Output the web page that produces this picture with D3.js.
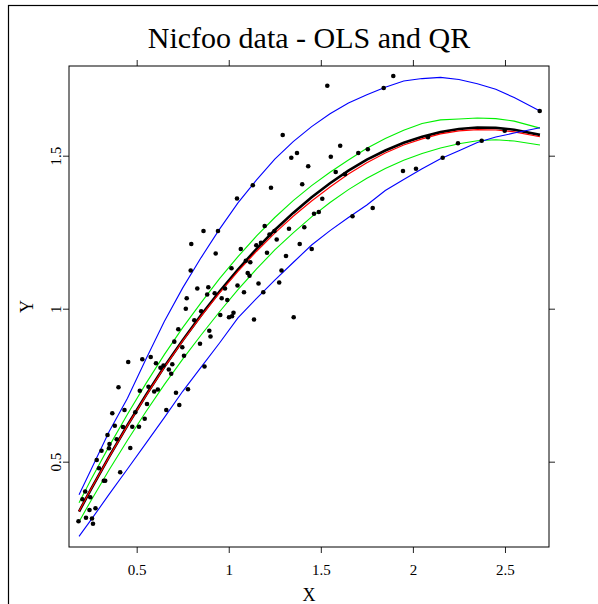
<!DOCTYPE html>
<html><head><meta charset="utf-8">
<script src="https://cdn.jsdelivr.net/npm/d3@7"></script>
<style>body{margin:0;background:#fff}svg{display:block}text{font-family:"Liberation Serif","Times New Roman",serif}</style>
</head><body>
<script>
// ---- data ----
const ptsX = [0.1841,0.2248,0.2438,0.2574,0.2628,0.2764,0.2058,0.2205,0.2482,0.2829,0.2954,0.3090,0.3215,0.3291,0.3416,0.3524,0.3497,0.3676,0.3812,0.3915,0.4013,0.4105,0.4257,0.4339,0.4540,0.4762,0.4654,0.4925,0.5126,0.5170,0.5306,0.5436,0.5561,0.5642,0.5762,0.5952,0.6049,0.6147,0.6294,0.6457,0.6609,0.6745,0.6875,0.6935,0.7043,0.7135,0.7315,0.7260,0.7478,0.7570,0.7787,0.7717,0.7668,0.7934,0.7966,0.8129,0.8292,0.8439,0.8504,0.8629,0.8683,0.8830,0.8890,0.8944,0.9009,0.9237,0.9291,0.9416,0.9541,0.9617,0.9796,0.9921,1.0014,1.0149,1.0177,1.0258,1.0475,1.0448,1.0654,1.0828,1.0926,1.1170,1.1029,1.1127,1.1306,1.1371,1.1496,1.1616,1.1751,1.1876,1.1952,1.2077,1.2213,1.2294,1.2484,1.2604,1.2740,1.2865,1.2930,1.3109,1.3272,1.3397,1.3527,1.3706,1.3853,1.3989,1.4103,1.4315,1.4505,1.4630,1.4890,1.5080,1.5352,1.5542,1.5808,1.6052,1.6313,1.6720,1.7035,1.7551,1.7817,1.8414,1.8936,1.9462,2.0168,2.0820,2.1618,2.2449,2.3736,2.4985,2.6886];
const ptsY = [0.3055,0.3167,0.3421,0.3144,0.2974,0.3477,0.3771,0.4026,0.3840,0.5055,0.4784,0.5359,0.4379,0.4379,0.5873,0.5578,0.5438,0.6582,0.6173,0.5732,0.7435,0.4654,0.6134,0.6689,0.8258,0.6144,0.5448,0.6614,0.6144,0.7320,0.8346,0.6405,0.6886,0.7451,0.8422,0.7294,0.8216,0.7359,0.8072,0.8144,0.6689,0.8013,0.7876,0.8186,0.8922,0.7255,0.6853,0.9330,0.8739,0.8464,0.7366,1.0340,1.0000,1.1248,1.2114,0.9621,1.0660,0.8856,0.9915,1.2539,0.8111,1.0464,1.0699,0.9281,0.9091,1.0503,1.1804,1.2539,0.9794,1.0343,1.0660,1.0284,0.9722,1.1320,0.9755,0.9869,1.0758,1.3601,1.1951,1.0539,1.1565,1.1516,1.1167,1.1078,1.4033,0.9647,1.2072,1.0824,1.2157,1.0539,1.2703,1.1830,1.2425,1.3954,1.2539,1.2261,1.0856,1.1248,1.5676,1.1722,1.2614,1.4935,0.9719,1.5088,1.2114,1.4065,1.2660,1.4654,1.1951,1.3101,1.3160,1.3595,1.7288,1.4967,1.4467,1.5327,1.4395,1.3020,1.5088,1.5209,1.3291,1.7212,1.7605,1.4500,1.4575,1.5601,1.4935,1.5405,1.5490,1.5817,1.6461];

const curveX = [0.187,0.25,0.35,0.45,0.55,0.65,0.75,0.85,0.95,1.05,1.15,1.25,1.35,1.45,1.55,1.65,1.75,1.85,1.95,2.05,2.15,2.25,2.35,2.45,2.55,2.69];
const olsY  = [0.337,0.408,0.516,0.619,0.717,0.810,0.897,0.979,1.056,1.128,1.195,1.257,1.313,1.364,1.410,1.451,1.487,1.517,1.542,1.562,1.577,1.587,1.592,1.591,1.585,1.568];
const q50Y  = [0.338,0.408,0.515,0.618,0.715,0.808,0.895,0.976,1.052,1.122,1.187,1.247,1.302,1.352,1.398,1.440,1.477,1.509,1.535,1.555,1.571,1.581,1.585,1.584,1.578,1.562];
const q75Y  = [0.366,0.439,0.550,0.655,0.755,0.850,0.938,1.020,1.098,1.170,1.237,1.298,1.353,1.402,1.446,1.486,1.524,1.556,1.583,1.605,1.617,1.620,1.623,1.621,1.613,1.590];
const q25Y  = [0.304,0.371,0.473,0.570,0.663,0.752,0.835,0.914,0.990,1.062,1.129,1.192,1.248,1.300,1.347,1.389,1.426,1.458,1.485,1.507,1.525,1.539,1.549,1.552,1.548,1.535];
const q95Y  = [0.392,0.471,0.598,0.707,0.835,0.958,1.068,1.167,1.260,1.346,1.420,1.489,1.546,1.595,1.637,1.672,1.699,1.724,1.744,1.752,1.756,1.749,1.735,1.717,1.690,1.646];
const q05Y  = [0.256,0.308,0.393,0.476,0.560,0.644,0.730,0.809,0.888,0.970,1.033,1.093,1.151,1.208,1.255,1.298,1.339,1.386,1.422,1.457,1.490,1.516,1.543,1.561,1.574,1.5915];

const xTicks = [0.5,1,1.5,2,2.5];
const xTickLabels = ["0.5","1","1.5","2","2.5"];
const yTicks = [0.5,1,1.5];
const yTickLabels = ["0.5","1","1.5"];
const title = "Nicfoo data - OLS and QR";
const xLabel = "X", yLabel = "Y";

// ---- layout ----
const W = 598, H = 604;
const L = 69, R = 549, T = 66, B = 547;
const svg = d3.select("body").append("svg").attr("width", W).attr("height", H);

svg.append("rect").attr("x", 8.5).attr("y", 5.5).attr("width", 700).attr("height", 700)
  .attr("fill", "none").attr("stroke", "#000").attr("stroke-width", 1.2);

const x = d3.scaleLinear().domain([0.1325, 2.7391]).range([L, R]);
const y = d3.scaleLinear().domain([0.2212, 1.7931]).range([B, T]);

svg.append("text").attr("x", 309).attr("y", 48).attr("text-anchor", "middle")
  .attr("font-size", 30).text(title);

function styleAxis(g){ g.select(".domain").remove(); g.selectAll("line").attr("stroke","#222"); g.selectAll("text").attr("fill","#000"); }

svg.append("g").attr("transform", `translate(0,${B})`)
  .call(d3.axisBottom(x).tickValues(xTicks).tickSize(6).tickPadding(0).tickFormat((d,i)=>xTickLabels[i]))
  .call(styleAxis)
  .call(g => g.selectAll("text").attr("y", 28).attr("dy", 0).attr("font-size", 15).attr("font-family", "Liberation Serif"));
svg.append("g").attr("transform", `translate(0,${T})`)
  .call(d3.axisTop(x).tickValues(xTicks).tickSize(6).tickFormat(""))
  .call(styleAxis);
svg.append("g").attr("transform", `translate(${L},0)`)
  .call(d3.axisLeft(y).tickValues(yTicks).tickSize(6).tickFormat((d,i)=>yTickLabels[i]))
  .call(styleAxis)
  .call(g => g.selectAll("text").attr("x", 0).attr("y", -8).attr("dy", 0)
      .attr("text-anchor", "middle").attr("transform", "rotate(-90)")
      .attr("font-size", 15).attr("font-family", "Liberation Serif"));
svg.append("g").attr("transform", `translate(${R},0)`)
  .call(d3.axisRight(y).tickValues(yTicks).tickSize(6).tickFormat(""))
  .call(styleAxis);

svg.append("rect").attr("x", L).attr("y", T).attr("width", R - L).attr("height", B - T)
  .attr("fill", "none").attr("stroke", "#000").attr("stroke-width", 1);

svg.append("text").attr("x", (L + R) / 2).attr("y", 601).attr("text-anchor", "middle")
  .attr("font-size", 18).text(xLabel);
svg.append("text").attr("transform", `translate(33,${(T + B) / 2}) rotate(-90)`)
  .attr("text-anchor", "middle").attr("font-size", 18).text(yLabel);

const line = d3.line().x(d => x(d[0])).y(d => y(d[1]));
const series = [
  {ys: olsY, color: "#000000", w: 2.6},
  {ys: q50Y, color: "#ff0000", w: 1.2},
  {ys: q25Y, color: "#00f000", w: 1.1},
  {ys: q75Y, color: "#00f000", w: 1.1},
  {ys: q05Y, color: "#0000ff", w: 1.1},
  {ys: q95Y, color: "#0000ff", w: 1.1}
];
series.forEach(s => {
  svg.append("path").datum(curveX.map((v, i) => [v, s.ys[i]]))
    .attr("d", line).attr("fill", "none").attr("stroke", s.color).attr("stroke-width", s.w);
});

svg.append("g").selectAll("circle").data(ptsX.map((v, i) => [v, ptsY[i]])).join("circle")
  .attr("cx", d => x(d[0])).attr("cy", d => y(d[1])).attr("r", 2.3).attr("fill", "#000");
</script>
</body></html>
